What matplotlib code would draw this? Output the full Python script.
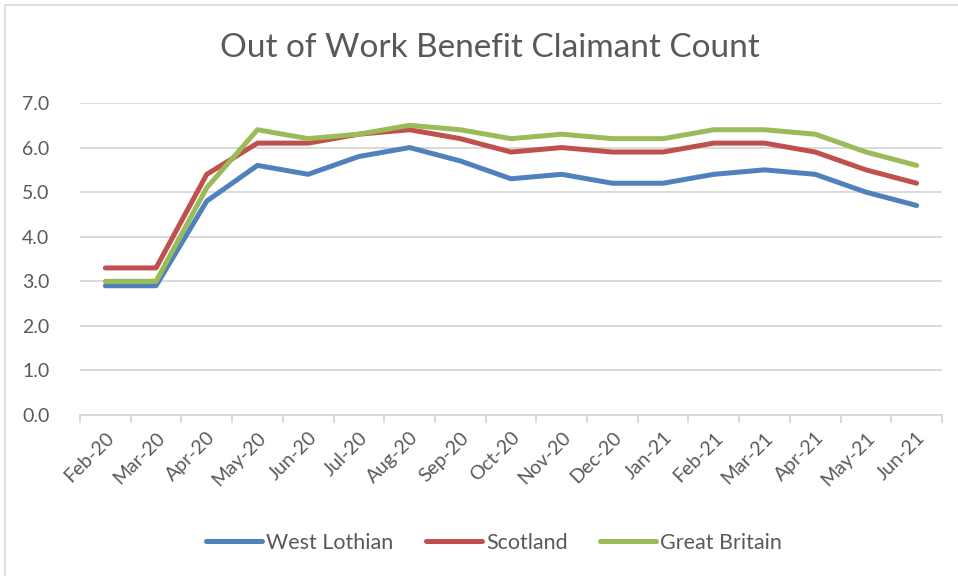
import matplotlib.pyplot as plt
from matplotlib.patches import Rectangle

months = ['Feb-20', 'Mar-20', 'Apr-20', 'May-20', 'Jun-20', 'Jul-20', 'Aug-20', 'Sep-20',
          'Oct-20', 'Nov-20', 'Dec-20', 'Jan-21', 'Feb-21', 'Mar-21', 'Apr-21', 'May-21', 'Jun-21']
west_lothian = [2.9, 2.9, 4.8, 5.6, 5.4, 5.8, 6.0, 5.7, 5.3, 5.4, 5.2, 5.2, 5.4, 5.5, 5.4, 5.0, 4.7]
scotland = [3.3, 3.3, 5.4, 6.1, 6.1, 6.3, 6.4, 6.2, 5.9, 6.0, 5.9, 5.9, 6.1, 6.1, 5.9, 5.5, 5.2]
great_britain = [3.0, 3.0, 5.1, 6.4, 6.2, 6.3, 6.5, 6.4, 6.2, 6.3, 6.2, 6.2, 6.4, 6.4, 6.3, 5.9, 5.6]

plt.rcParams['font.family'] = ['Lato', 'DejaVu Sans']
text_color = '#595959'

fig = plt.figure(figsize=(9.58, 5.76), dpi=100)
# light border round the chart area
fig.patches.append(Rectangle((5 / 958, -0.01), 1.0, 1.0 - 5 / 576 + 0.01, transform=fig.transFigure,
                             fill=False, edgecolor='#d9d9d9', linewidth=1.2))

ax = fig.add_axes([80 / 958, 1 - 415 / 576, 862 / 958, 312 / 576])

x = list(range(len(months)))
ax.plot(x, west_lothian, color='#4F81BD', linewidth=3.6, solid_capstyle='round', label='West Lothian')
ax.plot(x, scotland, color='#C0504D', linewidth=3.6, solid_capstyle='round', label='Scotland')
ax.plot(x, great_britain, color='#9BBB59', linewidth=3.6, solid_capstyle='round', label='Great Britain')

ax.set_xlim(-0.5, len(months) - 0.5)
ax.set_ylim(0, 7)
ax.set_yticks([i * 1.0 for i in range(8)])
ax.set_yticklabels([f'{i:.1f}' for i in range(8)], fontsize=14, color=text_color)
ax.yaxis.grid(True, color='#d9d9d9', linewidth=1.4)
ax.set_axisbelow(True)
ax.tick_params(axis='y', length=0, pad=22)

# category ticks sit between the months
ax.set_xticks([i - 0.5 for i in range(len(months) + 1)])
ax.set_xticklabels([])
ax.set_xticks(x, minor=True)
ax.set_xticklabels(months, minor=True, rotation=45, ha='right', rotation_mode='anchor',
                   fontsize=14, color=text_color)
ax.tick_params(axis='x', which='major', length=6, color='#d9d9d9', width=1.4)
ax.tick_params(axis='x', which='minor', length=0, pad=10)

for side in ['top', 'right', 'left']:
    ax.spines[side].set_visible(False)
ax.spines['bottom'].set_color('#d9d9d9')
ax.spines['bottom'].set_linewidth(1.4)

fig.text(490 / 958, 1 - 48 / 576, 'Out of Work Benefit Claimant Count', ha='center', va='center',
         fontsize=24, color=text_color)

fig.legend(loc='center', bbox_to_anchor=(494 / 958, 1 - 543 / 576), ncol=3, frameon=False,
           fontsize=15.5, labelcolor=text_color, handlelength=2.6, handletextpad=0.2,
           columnspacing=1.5)

fig.savefig('out.png', dpi=100)
